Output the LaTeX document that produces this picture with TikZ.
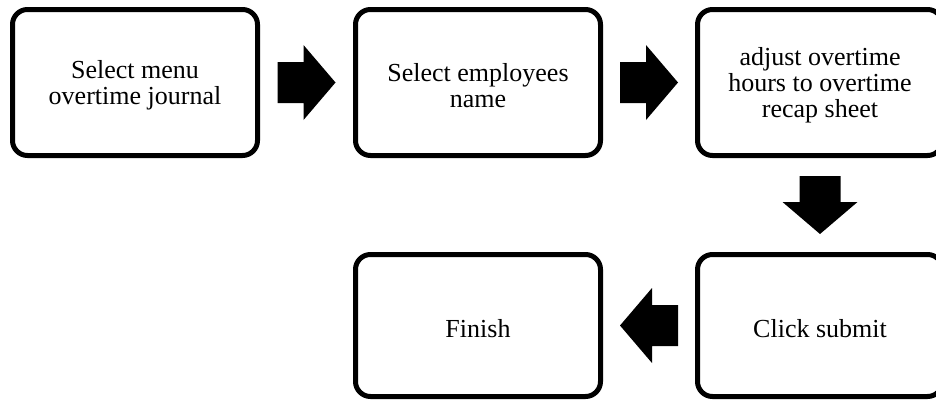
\documentclass[tikz,border=0pt]{standalone}
\usepackage{fontspec}
\setmainfont{Liberation Serif}
\usetikzlibrary{calc}

% invisible strut that sets the first line of a box a little lower
\newcommand{\boxstrut}{\rule{0pt}{24pt}}

\tikzset{
  stepbox/.style={draw=black, line width=5pt, rounded corners=15pt, fill=white,
    minimum width=245pt, align=center, inner sep=0pt,
    font=\fontsize{26pt}{26pt}\selectfont},
  tallbox/.style={stepbox, minimum height=146pt},
  lowbox/.style={stepbox, minimum height=142pt},
  pics/blockarrow/.style={code={
    \fill[black] (-29,-20.5) -- (-3,-20.5) -- (-3,-37.5) -- (29,0)
      -- (-3,37.5) -- (-3,20.5) -- (-29,20.5) -- cycle;}}
}

\begin{document}
\begin{tikzpicture}[x=1pt, y=-1pt]
  \useasboundingbox (0,0) rectangle (936,400);
  \clip (0,0) rectangle (936,400);

  % process steps
  \node[tallbox] (menu)   at (135,82.5)  {\boxstrut Select menu\\overtime journal};
  \node[tallbox] (emp)    at (478,82.5)  {\boxstrut Select employees\\name};
  \node[tallbox] (adjust) at (820,82.5)  {\boxstrut adjust overtime\\hours to overtime\\recap sheet};
  \node[lowbox]  (submit) at (820,325.5) {\boxstrut Click submit};
  \node[lowbox]  (finish) at (478,325.5) {\boxstrut Finish};

  % block arrows between the steps
  \pic at ($(menu.east)!0.5!(emp.west)$) {blockarrow};
  \pic at ($(emp.east)!0.5!(adjust.west)$) {blockarrow};
  \pic[rotate=-90] at ($(adjust.south)!0.5!(submit.north)$) {blockarrow};
  \pic[rotate=180] at ($(submit.west)!0.5!(finish.east)$) {blockarrow};
\end{tikzpicture}
\end{document}
